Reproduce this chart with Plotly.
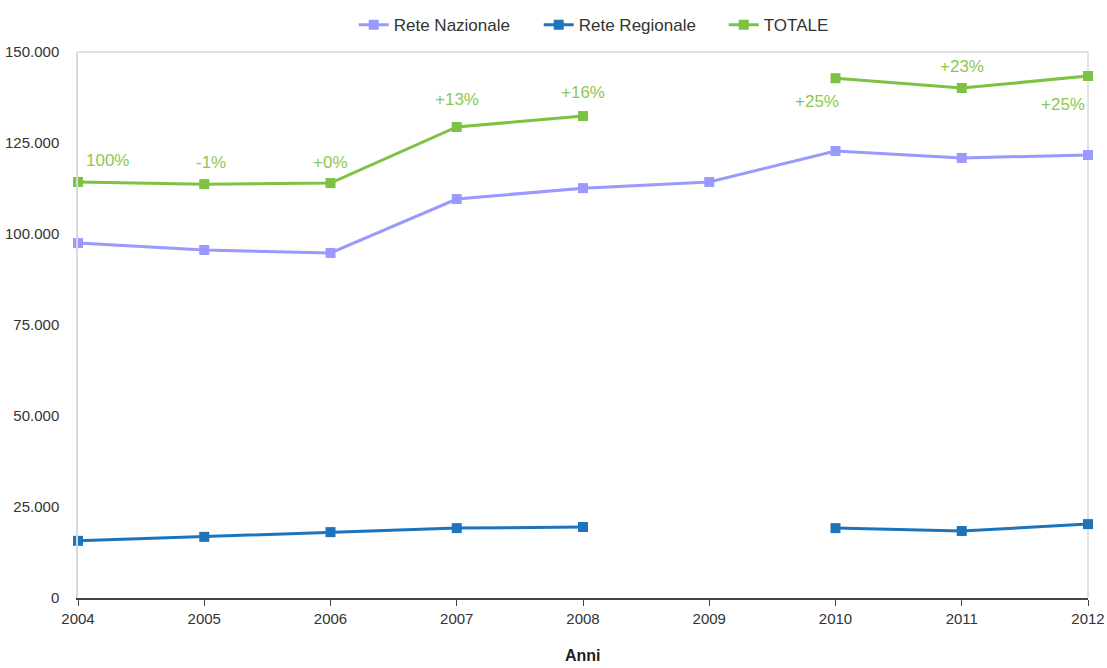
import plotly.graph_objects as go

anni = [2004, 2005, 2006, 2007, 2008, 2009, 2010, 2011, 2012]
rete_nazionale = [97500, 95600, 94800, 109600, 112600, 114300, 122800, 120900, 121700]
rete_regionale = [15700, 16800, 18100, 19200, 19500, None, 19200, 18400, 20300]
totale = [114300, 113700, 114000, 129400, 132400, None, 142800, 140100, 143400]
variazioni = ["100%", "-1%", "+0%", "+13%", "+16%", None, "+25%", "+23%", "+25%"]

y_ticks = [0, 25000, 50000, 75000, 100000, 125000, 150000]

# label offsets (pixels) relative to the TOTALE point
label_shift = {
    2004: (29, 21), 2005: (7, 22), 2006: (0, 21), 2007: (0, 27), 2008: (0, 24),
    2010: (-19, -23), 2011: (0, 22), 2012: (-25, -28),
}

FONT = "Liberation Sans, Arial, sans-serif"
PLOT_TOP, PLOT_BOTTOM = 52, 598

fig = go.Figure()

series = [
    ("Rete Nazionale", rete_nazionale, "#9999FF"),
    ("Rete Regionale", rete_regionale, "#1C75BC"),
    ("TOTALE", totale, "#7DC243"),
]
for name, vals, color in series:
    fig.add_trace(go.Scatter(
        x=anni, y=vals, name=name, mode="lines+markers",
        line=dict(color=color, width=3),
        marker=dict(symbol="square", size=10, color=color),
        connectgaps=False,
        cliponaxis=False,
    ))

for anno, val, txt in zip(anni, totale, variazioni):
    if txt is None:
        continue
    dx, dy = label_shift[anno]
    fig.add_annotation(
        x=anno, y=val, text=txt, showarrow=False,
        xshift=dx, yshift=dy,
        font=dict(family=FONT, size=17, color="#8CC850"),
    )

# axis title, placed below the x axis line
fig.add_annotation(
    x=0.5, y=-57 / (PLOT_BOTTOM - PLOT_TOP), xref="paper", yref="paper",
    xanchor="center", yanchor="middle", text="<b>Anni</b>",
    showarrow=False, font=dict(family=FONT, size=16, color="#222222"),
)

fig.update_layout(
    width=1107, height=668,
    margin=dict(l=78, r=19, t=PLOT_TOP, b=668 - PLOT_BOTTOM, autoexpand=False),
    paper_bgcolor="white", plot_bgcolor="white",
    separators=",.",
    font=dict(family=FONT, size=15, color="#333333"),
    showlegend=True,
    legend=dict(
        orientation="h", x=0.273, xanchor="left", y=1.049, yanchor="middle",
        bgcolor="rgba(0,0,0,0)",
        font=dict(family=FONT, size=17, color="#333333"),
        itemwidth=30, entrywidth=140, entrywidthmode="pixels",
    ),
    xaxis=dict(
        range=[2004, 2012], tickvals=anni, ticktext=[str(a) for a in anni],
        showgrid=False, zeroline=False, automargin=False,
        showline=True, linecolor="#444444", linewidth=1.5,
        ticks="outside", ticklen=6, tickcolor="#444444",
        tickfont=dict(family=FONT, size=15, color="#333333"),
    ),
    yaxis=dict(
        range=[0, 150000], tickvals=y_ticks, tickformat=",d",
        showgrid=False, zeroline=False, automargin=False,
        showline=True, linecolor="#D9D9D9", linewidth=1.5,
        ticks="", ticklabelstandoff=14,
        tickfont=dict(family=FONT, size=15, color="#333333"),
    ),
    shapes=[
        dict(type="line", xref="paper", yref="paper", x0=0, x1=1, y0=1, y1=1,
             line=dict(color="#D9D9D9", width=1.5), layer="below"),
        dict(type="line", xref="paper", yref="paper", x0=1, x1=1, y0=0, y1=1,
             line=dict(color="#D9D9D9", width=1.5), layer="below"),
    ],
)

fig.write_html("out.html")
